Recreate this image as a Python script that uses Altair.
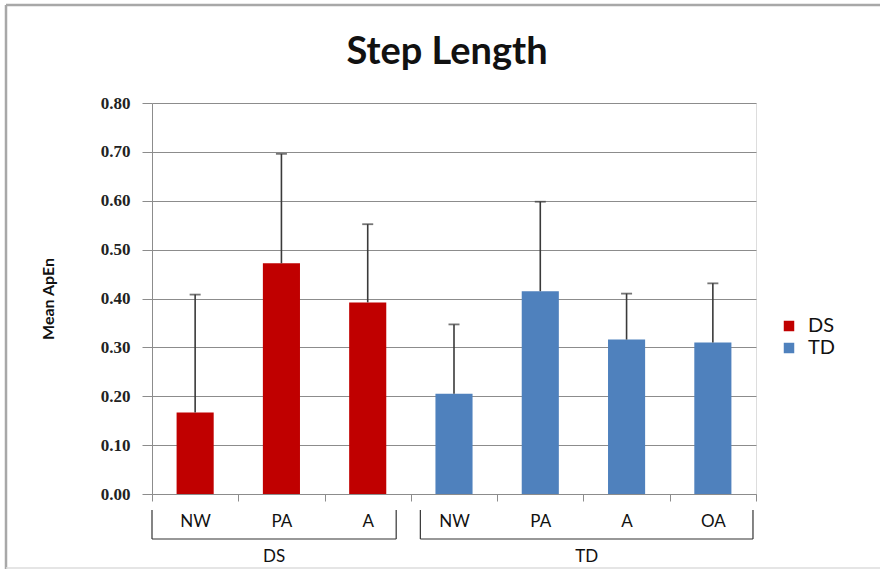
import altair as alt
import pandas as pd

# Step length: mean ApEn with standard deviation, per group and condition
groups = ["DS", "DS", "DS", "TD", "TD", "TD", "TD"]
conditions = ["NW", "PA", "A", "NW", "PA", "A", "OA"]
means = [0.167, 0.472, 0.392, 0.205, 0.415, 0.316, 0.310]
sds = [0.241, 0.224, 0.160, 0.142, 0.183, 0.094, 0.121]
group_names = ["DS", "TD"]
group_colors = ["#C00000", "#4F81BD"]
y_ticks = [0.0, 0.1, 0.2, 0.3, 0.4, 0.5, 0.6, 0.7, 0.8]

keys = [g + "|" + c for g, c in zip(groups, conditions)]
df = pd.DataFrame({"key": keys, "group": groups, "cond": conditions,
                   "mean": means, "sd": sds})

# group spans in category units, for the brackets under the axis
spans = []
for g in group_names:
    idx = [i for i, gg in enumerate(groups) if gg == g]
    spans.append({"group": g, "start": idx[0], "end": idx[-1] + 1})
spans_df = pd.DataFrame(spans)

W, H = 604, 391
PAD_L, PAD_T = 152, 103
AXIS_GREY = "#8c8c8c"
ERR = "#3a3a3a"

xscale = alt.Scale(domain=keys, paddingInner=0, paddingOuter=0)
xenc = alt.X(
    "key:N",
    scale=xscale,
    axis=alt.Axis(
        title=None, orient="bottom", labelAngle=0,
        labelExpr="split(datum.label, '|')[1]",
        labelFont="Lato", labelFontSize=17, labelColor="#111111",
        labelPadding=12, tickBand="extent", tickSize=7,
        tickColor=AXIS_GREY, domainColor=AXIS_GREY, grid=False,
    ),
)
xenc_plain = alt.X("key:N", scale=xscale, axis=None)

yenc = alt.Y(
    "mean:Q",
    scale=alt.Scale(domain=[0, 0.8], nice=False),
    axis=alt.Axis(
        title="Mean ApEn", titleFont="Lato", titleFontSize=16,
        titleFontWeight="bold", titleColor="#111111", titlePadding=44,
        values=y_ticks, format=".2f", labelFont="Liberation Serif",
        labelFontSize=17, labelFontWeight="bold", labelColor="#222222",
        labelPadding=12, tickSize=10, tickColor=AXIS_GREY,
        domainColor=AXIS_GREY, grid=True, gridColor=AXIS_GREY,
    ),
)

base = alt.Chart(df).transform_calculate(hi="datum.mean + datum.sd")

bars = base.mark_bar(width=alt.RelativeBandSize(0.43)).encode(
    x=xenc,
    y=yenc,
    color=alt.Color(
        "group:N",
        scale=alt.Scale(domain=group_names, range=group_colors),
        legend=alt.Legend(
            title=None, orient="none", legendX=627, legendY=213,
            symbolType="square", symbolSize=110, symbolStrokeWidth=0,
            labelFont="Lato", labelFontSize=20, labelColor="#111111",
            labelOffset=9, rowPadding=2, padding=0,
        ),
    ),
)

err_lines = base.mark_rule(color=ERR, strokeWidth=1.6).encode(
    x=xenc_plain, y=alt.Y("mean:Q"), y2="hi:Q"
)
err_caps = base.mark_tick(color=ERR, thickness=1.8, size=11).encode(
    x=xenc_plain, y=alt.Y("hi:Q")
)

# brackets grouping the conditions under each group name
bx = alt.Scale(domain=[0, len(keys)], nice=False, zero=False)
BR_TOP, BR_BOT = 407, 436
inset_left = {"DS": 0.0, "TD": 0.11}
inset_right = {"DS": 0.17, "TD": 0.035}

br = alt.Chart(spans_df).transform_calculate(
    x0="datum.start + (datum.group == 'DS' ? %f : %f)" % (inset_left["DS"], inset_left["TD"]),
    x1="datum.end - (datum.group == 'DS' ? %f : %f)" % (inset_right["DS"], inset_right["TD"]),
    xm="(datum.x0 + datum.x1) / 2",
)
br_h = br.mark_rule(color="#333333", strokeWidth=1.2).encode(
    x=alt.X("x0:Q", scale=bx, axis=None), x2="x1:Q", y=alt.value(BR_BOT)
)
br_l = br.mark_rule(color="#333333", strokeWidth=1.2).encode(
    x=alt.X("x0:Q", scale=bx, axis=None), y=alt.value(BR_TOP), y2=alt.value(BR_BOT)
)
br_r = br.mark_rule(color="#333333", strokeWidth=1.2).encode(
    x=alt.X("x1:Q", scale=bx, axis=None), y=alt.value(BR_TOP), y2=alt.value(BR_BOT)
)
br_t = br.mark_text(font="Lato", fontSize=17, color="#111111",
                    baseline="middle").encode(
    x=alt.X("xm:Q", scale=bx, axis=None), y=alt.value(454), text="group:N"
)

# outer frame of the chart
frame_df = pd.DataFrame({"f": [0]})
frame_left = alt.Chart(frame_df).mark_rule(color="#a8a8a8", strokeWidth=2.5).encode(
    x=alt.value(-146), y=alt.value(-98), y2=alt.value(466)
)
frame_top = alt.Chart(frame_df).mark_rule(color="#a8a8a8", strokeWidth=2.5).encode(
    x=alt.value(-146), x2=alt.value(728), y=alt.value(-98)
)
frame_bot = alt.Chart(frame_df).mark_rule(color="#dddddd", strokeWidth=1.5).encode(
    x=alt.value(-146), x2=alt.value(728), y=alt.value(465)
)

chart = (
    alt.layer(bars, err_lines, err_caps, br_h, br_l, br_r, br_t,
              frame_left, frame_top, frame_bot)
    .resolve_scale(x="independent")
    .properties(
        width=W, height=H,
        autosize=alt.AutoSizeParams(type="none"),
        padding={"left": PAD_L, "top": PAD_T, "right": 880 - PAD_L - W,
                 "bottom": 571 - PAD_T - H},
        title=alt.TitleParams(
            "Step Length", font="Lato", fontSize=38, fontWeight="bold",
            color="#111111", anchor="middle", frame="group",
            baseline="alphabetic", offset=-98, dx=-7,
        ),
    )
    .configure_view(strokeWidth=0)
    .configure(background="white")
)

chart.save("out.html", embed_options={"renderer": "svg", "actions": False})
